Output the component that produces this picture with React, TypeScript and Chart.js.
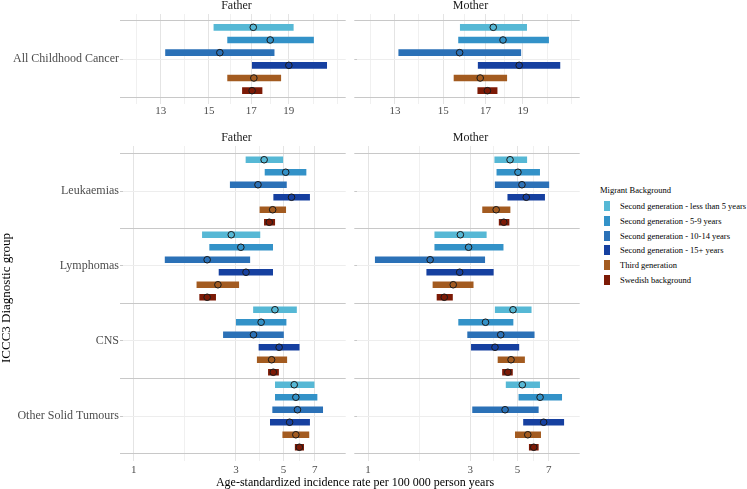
import React, { useEffect, useRef } from 'react';
import { Chart, registerables } from 'chart.js';

Chart.register(...registerables);

// ---------- data ----------
const backgrounds = [
  'Second generation - less than 5 years',
  'Second generation - 5-9 years',
  'Second generation - 10-14 years',
  'Second generation - 15+ years',
  'Third generation',
  'Swedish background',
];
const backgroundColors = ['#56B8D5', '#3392C8', '#2B71B7', '#1640A0', '#A35B20', '#7C1A06'];

const parents = ['Father', 'Mother'];
const topGroups = ['All Childhood Cancer'];
const bottomGroups = ['Leukaemias', 'Lymphomas', 'CNS', 'Other Solid Tumours'];

const topTicks = [13, 15, 17, 19];
const topMinorTicks = [12.1, 13.96, 15.97, 17.97, 20.41, 21.92];
const bottomTicks = [1, 3, 5, 7];
const bottomMinorTicks = [1.732, 3.873, 5.916];

// Father – All Childhood Cancer
const fatherAllEst = [17.1, 17.98, 15.49, 19.0, 17.13, 17.04];
const fatherAllLow = [15.22, 15.85, 13.19, 17.05, 15.85, 16.56];
const fatherAllHigh = [19.25, 20.44, 18.19, 21.25, 18.55, 17.55];
// Mother – All Childhood Cancer
const motherAllEst = [17.4, 17.91, 15.75, 18.79, 16.74, 17.1];
const motherAllLow = [15.78, 15.7, 13.15, 16.64, 15.49, 16.62];
const motherAllHigh = [19.21, 20.5, 18.88, 21.2, 18.11, 17.6];

// Father – diagnostic groups
const fatherLeukEst = [4.06, 5.12, 3.8, 5.45, 4.45, 4.29];
const fatherLeukLow = [3.34, 4.1, 2.82, 4.5, 3.88, 4.07];
const fatherLeukHigh = [4.96, 6.37, 5.16, 6.62, 5.12, 4.55];
const fatherLymphEst = [2.85, 3.16, 2.2, 3.34, 2.47, 2.2];
const fatherLymphLow = [2.09, 2.26, 1.4, 2.5, 1.97, 2.03];
const fatherLymphHigh = [3.88, 4.45, 3.48, 4.45, 3.09, 2.41];
const fatherCnsEst = [4.56, 3.93, 3.62, 4.77, 4.4, 4.48];
const fatherCnsLow = [3.62, 3.01, 2.62, 3.84, 3.77, 4.25];
const fatherCnsHigh = [5.75, 5.14, 5.0, 5.92, 5.18, 4.74];
const fatherOstEst = [5.61, 5.71, 5.81, 5.34, 5.71, 5.93];
const fatherOstLow = [4.58, 4.58, 4.45, 4.34, 4.96, 5.67];
const fatherOstHigh = [6.95, 7.17, 7.62, 6.62, 6.57, 6.21];

// Mother – diagnostic groups
const motherLeukEst = [4.61, 5.02, 5.24, 5.49, 3.97, 4.31];
const motherLeukLow = [3.91, 4.0, 3.93, 4.5, 3.43, 4.1];
const motherLeukHigh = [5.52, 6.34, 7.0, 6.69, 4.61, 4.56];
const motherLymphEst = [2.7, 2.95, 1.95, 2.68, 2.5, 2.27];
const motherLymphLow = [2.05, 2.05, 1.08, 1.88, 2.01, 2.1];
const motherLymphHigh = [3.57, 4.28, 3.51, 3.85, 3.1, 2.48];
const motherCnsEst = [4.76, 3.54, 4.17, 3.92, 4.66, 4.5];
const motherCnsLow = [3.93, 2.65, 2.92, 3.04, 4.05, 4.25];
const motherCnsHigh = [5.79, 4.76, 5.98, 5.07, 5.39, 4.73];
const motherOstEst = [5.26, 6.37, 4.37, 6.62, 5.58, 5.95];
const motherOstLow = [4.42, 5.07, 3.08, 5.33, 4.88, 5.67];
const motherOstHigh = [6.34, 8.04, 6.25, 8.22, 6.41, 6.25];

// ---------- styling ----------
const FONT = "'Liberation Serif', 'Times New Roman', serif";

type PanelSpec = {
  groups: string[];
  est: number[][];
  low: number[][];
  high: number[][];
  xMin: number;
  xMax: number;
  majors: number[];
  minors: number[];
  showLabels: boolean;
  pad: number;
  yWidth: number;
  xHeight: number;
  tickPad: number;
};

function buildConfig(p: PanelSpec): any {
  const datasets: any[] = [];
  backgrounds.forEach((name, b) => {
    datasets.push({
      type: 'bar',
      label: name,
      indexAxis: 'y',
      grouped: false,
      order: 1,
      barThickness: 6,
      backgroundColor: backgroundColors[b],
      borderWidth: 0,
      data: p.groups.map((_, g) => ({ y: g * 6 + b + 0.5, x: [p.low[g][b], p.high[g][b]] })),
    });
  });
  backgrounds.forEach((name, b) => {
    datasets.push({
      type: 'scatter',
      label: name,
      order: 0,
      pointRadius: 3.3,
      pointHoverRadius: 3.3,
      pointBackgroundColor: backgroundColors[b],
      pointBorderColor: '#1A1A1A',
      pointBorderWidth: 1,
      data: p.groups.map((_, g) => ({ y: g * 6 + b + 0.5, x: p.est[g][b] })),
    });
  });
  const nRows = p.groups.length * 6;
  const majorSet = new Set(p.majors);
  const xTickValues = [...p.majors, ...p.minors]
    .filter((v) => v >= p.xMin && v <= p.xMax)
    .sort((a, b) => a - b);
  const yTickValues: number[] = [];
  for (let g = 0; g <= p.groups.length; g++) {
    yTickValues.push(g * 6);
    if (g < p.groups.length) yTickValues.push(g * 6 + 3);
  }
  return {
    type: 'bar',
    data: { datasets },
    options: {
      responsive: false,
      animation: false,
      devicePixelRatio: 1,
      events: [],
      indexAxis: 'y',
      layout: { padding: { top: 10, left: 0, right: 0, bottom: 0 } },
      plugins: { legend: { display: false }, tooltip: { enabled: false }, title: { display: false } },
      scales: {
        x: {
          type: 'logarithmic',
          position: 'bottom',
          min: p.xMin,
          max: p.xMax,
          bounds: 'data',
          offset: false,
          afterBuildTicks: (scale: any) => {
            scale.ticks = xTickValues.map((v) => ({ value: v }));
          },
          afterFit: (scale: any) => {
            scale.height = p.xHeight;
          },
          ticks: {
            autoSkip: false,
            maxRotation: 0,
            minRotation: 0,
            padding: p.tickPad,
            color: '#4D4D4D',
            font: { family: FONT, size: 11 },
            callback: (v: any) => (majorSet.has(Number(v)) ? String(v) : ''),
          },
          grid: {
            offset: false,
            drawTicks: false,
            color: (ctx: any) => (ctx.tick && majorSet.has(ctx.tick.value) ? '#E4E4E4' : '#F0F0F0'),
            lineWidth: 1,
          },
          border: { display: false },
        },
        y: {
          type: 'linear',
          reverse: true,
          min: -p.pad,
          max: nRows + p.pad,
          bounds: 'data',
          offset: false,
          afterBuildTicks: (scale: any) => {
            scale.ticks = yTickValues.map((v) => ({ value: v }));
          },
          afterFit: (scale: any) => {
            scale.width = p.yWidth;
          },
          ticks: {
            display: p.showLabels,
            autoSkip: false,
            padding: 1,
            color: '#4D4D4D',
            font: { family: FONT, size: 12 },
            callback: (v: any) => {
              const n = Number(v);
              return n % 6 === 3 ? p.groups[(n - 3) / 6] : '';
            },
          },
          grid: {
            offset: false,
            drawTicks: true,
            tickLength: 3,
            color: (ctx: any) => (ctx.tick && ctx.tick.value % 6 === 0 ? '#C8C8C8' : '#EDEDED'),
            tickColor: '#C8C8C8',
            lineWidth: 1,
          },
          border: { display: false },
        },
      },
    },
  };
}

const TOP_MIN = 11.63;
const TOP_MAX = 22.48;
const BOT_MIN = 0.89;
const BOT_MAX = 9.76;

const fatherTop: PanelSpec = {
  groups: topGroups,
  est: [fatherAllEst],
  low: [fatherAllLow],
  high: [fatherAllHigh],
  xMin: TOP_MIN, xMax: TOP_MAX, majors: topTicks, minors: topMinorTicks,
  showLabels: true, pad: 0.55, yWidth: 123, xHeight: 20, tickPad: 1,
};
const motherTop: PanelSpec = {
  groups: topGroups,
  est: [motherAllEst],
  low: [motherAllLow],
  high: [motherAllHigh],
  xMin: TOP_MIN, xMax: TOP_MAX, majors: topTicks, minors: topMinorTicks,
  showLabels: false, pad: 0.55, yWidth: 4, xHeight: 20, tickPad: 1,
};
const fatherBottom: PanelSpec = {
  groups: bottomGroups,
  est: [fatherLeukEst, fatherLymphEst, fatherCnsEst, fatherOstEst],
  low: [fatherLeukLow, fatherLymphLow, fatherCnsLow, fatherOstLow],
  high: [fatherLeukHigh, fatherLymphHigh, fatherCnsHigh, fatherOstHigh],
  xMin: BOT_MIN, xMax: BOT_MAX, majors: bottomTicks, minors: bottomMinorTicks,
  showLabels: true, pad: 0.6, yWidth: 123, xHeight: 20, tickPad: 3,
};
const motherBottom: PanelSpec = {
  groups: bottomGroups,
  est: [motherLeukEst, motherLymphEst, motherCnsEst, motherOstEst],
  low: [motherLeukLow, motherLymphLow, motherCnsLow, motherOstLow],
  high: [motherLeukHigh, motherLymphHigh, motherCnsHigh, motherOstHigh],
  xMin: BOT_MIN, xMax: BOT_MAX, majors: bottomTicks, minors: bottomMinorTicks,
  showLabels: false, pad: 0.6, yWidth: 4, xHeight: 20, tickPad: 3,
};

function PanelChart(props: { spec: PanelSpec; left: number; top: number; width: number; height: number }) {
  const ref = useRef<HTMLCanvasElement | null>(null);
  useEffect(() => {
    if (!ref.current) return;
    const chart = new Chart(ref.current, buildConfig(props.spec));
    return () => chart.destroy();
  }, []);
  return (
    <canvas
      ref={ref}
      width={props.width}
      height={props.height}
      style={{ position: 'absolute', left: props.left, top: props.top, width: props.width, height: props.height }}
    />
  );
}

function Strip(props: { text: string; cx: number; top: number }) {
  return (
    <div
      style={{
        position: 'absolute',
        left: props.cx - 100,
        top: props.top,
        width: 200,
        textAlign: 'center',
        fontSize: 12,
        lineHeight: '12px',
        color: '#1A1A1A',
        whiteSpace: 'nowrap',
      }}
    >
      {props.text}
    </div>
  );
}

export default function App() {
  const fatherCx = 123 + 113.5;
  const motherCx = 357 + 113.5;
  return (
    <div
      style={{
        position: 'fixed',
        left: 0,
        top: 0,
        width: 747,
        height: 489,
        background: '#FFFFFF',
        overflow: 'hidden',
        fontFamily: FONT,
      }}
    >
      <PanelChart spec={fatherTop} left={0} top={4} width={350} height={120} />
      <PanelChart spec={motherTop} left={353} top={4} width={231} height={120} />
      <PanelChart spec={fatherBottom} left={0} top={136} width={350} height={345} />
      <PanelChart spec={motherBottom} left={353} top={136} width={231} height={345} />

      <Strip text={parents[0]} cx={fatherCx} top={-1.5} />
      <Strip text={parents[1]} cx={motherCx} top={-1.5} />
      <Strip text={parents[0]} cx={fatherCx} top={131} />
      <Strip text={parents[1]} cx={motherCx} top={131} />

      <div
        style={{
          position: 'absolute',
          left: 155,
          top: 476,
          width: 400,
          textAlign: 'center',
          fontSize: 12,
          lineHeight: '12px',
          color: '#000',
          whiteSpace: 'nowrap',
        }}
      >
        Age-standardized incidence rate per 100 000 person years
      </div>

      <div
        style={{
          position: 'absolute',
          left: 5.5 - 100,
          top: 298 - 7,
          width: 200,
          height: 14,
          textAlign: 'center',
          fontSize: 13,
          lineHeight: '14px',
          color: '#000',
          whiteSpace: 'nowrap',
          transform: 'rotate(-90deg)',
        }}
      >
        ICCC3 Diagnostic group
      </div>

      <div
        style={{
          position: 'absolute',
          left: 600,
          top: 185,
          fontSize: 8.5,
          lineHeight: '10px',
          color: '#000',
          whiteSpace: 'nowrap',
        }}
      >
        Migrant Background
      </div>
      {backgrounds.map((name, i) => {
        const cy = 205.7 + i * 14.9;
        return (
          <React.Fragment key={name}>
            <div
              style={{
                position: 'absolute',
                left: 604,
                top: cy - 5,
                width: 6,
                height: 10,
                background: backgroundColors[i],
              }}
            />
            <div
              style={{
                position: 'absolute',
                left: 620,
                top: cy - 5,
                fontSize: 8.5,
                lineHeight: '10px',
                color: '#000',
                whiteSpace: 'nowrap',
              }}
            >
              {name}
            </div>
          </React.Fragment>
        );
      })}
    </div>
  );
}
